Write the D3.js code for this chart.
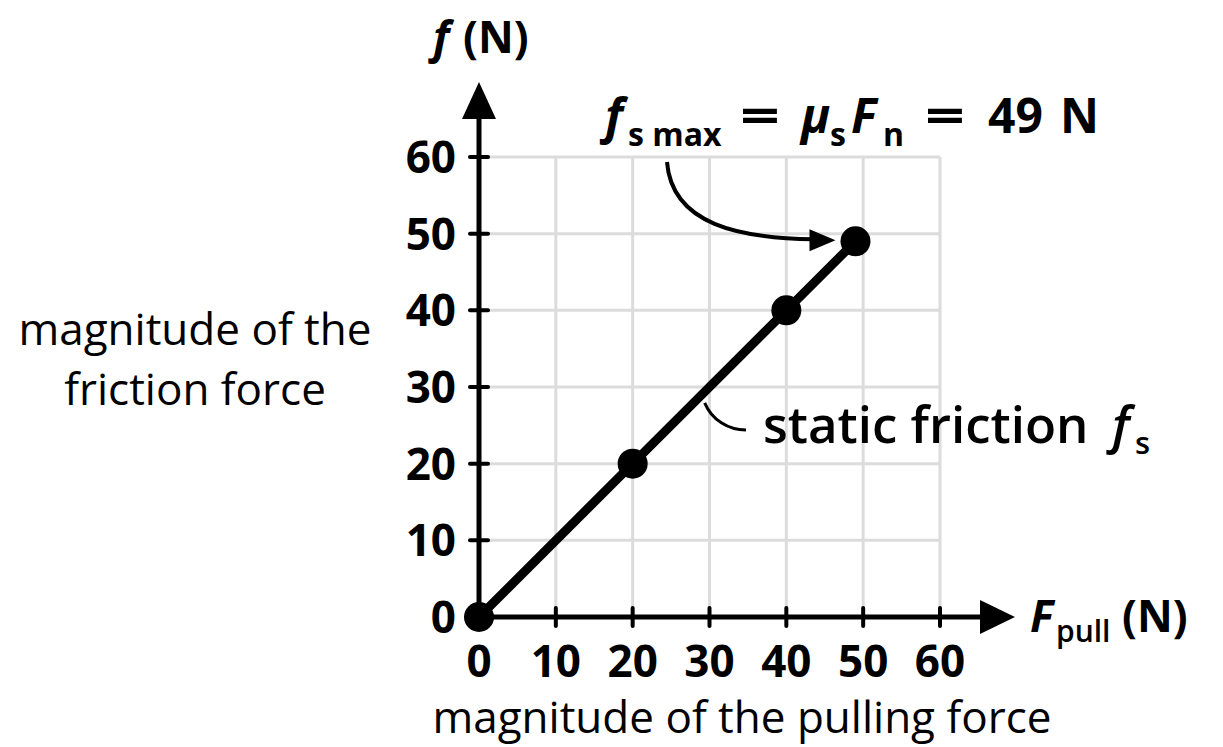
<!DOCTYPE html>
<html>
<head>
<meta charset="utf-8">
<script src="https://cdn.jsdelivr.net/npm/d3@7"></script>
<style>
  body { margin: 0; background: #fff; }
  svg { display: block; }
  text { font-family: "Open Sans", "Noto Sans", sans-serif; fill: #000; }
</style>
</head>
<body>
<svg id="chart" width="1223" height="747"></svg>
<script>
// DATA
const xTicks = [0, 10, 20, 30, 40, 50, 60];
const yTicks = [0, 10, 20, 30, 40, 50, 60];
const pullForce = [0, 20, 40, 49];
const frictionForce = [0, 20, 40, 49];
const xTitle = "magnitude of the pulling force";
const yTitleLines = ["magnitude of the", "friction force"];

const svg = d3.select("#chart");

const x = d3.scaleLinear().domain([0, 60]).range([479, 940]);
const y = d3.scaleLinear().domain([0, 60]).range([617, 157]);

// grid
svg.append("g")
  .selectAll("line")
  .data(xTicks.slice(1))
  .join("line")
  .attr("x1", d => x(d)).attr("x2", d => x(d))
  .attr("y1", y(0)).attr("y2", y(60))
  .attr("stroke", "#dcdcdc").attr("stroke-width", 3);

svg.append("g")
  .selectAll("line")
  .data(yTicks.slice(1))
  .join("line")
  .attr("x1", x(0)).attr("x2", x(60))
  .attr("y1", d => y(d)).attr("y2", d => y(d))
  .attr("stroke", "#dcdcdc").attr("stroke-width", 3);

// axis lines
svg.append("line")
  .attr("x1", x(0)).attr("x2", 990)
  .attr("y1", y(0)).attr("y2", y(0))
  .attr("stroke", "#000").attr("stroke-width", 5);
svg.append("line")
  .attr("x1", x(0)).attr("x2", x(0))
  .attr("y1", y(0)).attr("y2", 110)
  .attr("stroke", "#000").attr("stroke-width", 5);

// arrowheads
svg.append("path")
  .attr("d", `M${x(0)},82 L${x(0) - 17},119 L${x(0) + 17},119 Z`)
  .attr("fill", "#000");
svg.append("path")
  .attr("d", `M1015,${y(0)} L980,${y(0) - 17} L980,${y(0) + 17} Z`)
  .attr("fill", "#000");

// tick marks
svg.append("g")
  .selectAll("line")
  .data(xTicks.slice(1))
  .join("line")
  .attr("x1", d => x(d)).attr("x2", d => x(d))
  .attr("y1", y(0) - 9).attr("y2", y(0) + 9)
  .attr("stroke", "#000").attr("stroke-width", 4)
  .attr("stroke-linecap", "round");
svg.append("g")
  .selectAll("line")
  .data(yTicks.slice(1))
  .join("line")
  .attr("x1", x(0) - 9).attr("x2", x(0) + 9)
  .attr("y1", d => y(d)).attr("y2", d => y(d))
  .attr("stroke", "#000").attr("stroke-width", 4)
  .attr("stroke-linecap", "round");

// tick labels
svg.append("g")
  .selectAll("text")
  .data(xTicks)
  .join("text")
  .attr("x", d => x(d)).attr("y", 677)
  .attr("text-anchor", "middle")
  .attr("font-size", 44).attr("font-weight", 700)
  .text(d => d);
svg.append("g")
  .selectAll("text")
  .data(yTicks)
  .join("text")
  .attr("x", 456).attr("y", d => y(d) + 16)
  .attr("text-anchor", "end")
  .attr("font-size", 44).attr("font-weight", 700)
  .text(d => d);

// axis titles
svg.append("text")
  .attr("x", 433).attr("y", 53)
  .attr("font-size", 44).attr("font-weight", 700).attr("font-style", "italic")
  .text("f");
svg.append("text")
  .attr("x", 463).attr("y", 53)
  .attr("font-size", 44).attr("font-weight", 700)
  .text("(N)");

svg.append("text")
  .attr("x", 1030).attr("y", 632)
  .attr("font-size", 44).attr("font-weight", 700).attr("font-style", "italic")
  .text("F");
svg.append("text")
  .attr("x", 1056).attr("y", 642)
  .attr("font-size", 30).attr("font-weight", 600)
  .text("pull");
svg.append("text")
  .attr("x", 1122).attr("y", 632)
  .attr("font-size", 44).attr("font-weight", 700)
  .text("(N)");

svg.append("text")
  .attr("x", 742).attr("y", 733)
  .attr("text-anchor", "middle")
  .attr("font-size", 44)
  .text(xTitle);

svg.append("g")
  .selectAll("text")
  .data(yTitleLines)
  .join("text")
  .attr("x", 195).attr("y", (d, i) => 345 + i * 60)
  .attr("text-anchor", "middle")
  .attr("font-size", 44)
  .text(d => d);

// data line and points
const line = d3.line().x((d, i) => x(pullForce[i])).y((d, i) => y(frictionForce[i]));
svg.append("path")
  .datum(pullForce)
  .attr("d", line)
  .attr("fill", "none")
  .attr("stroke", "#000")
  .attr("stroke-width", 9);

svg.append("g")
  .selectAll("circle")
  .data(pullForce)
  .join("circle")
  .attr("cx", d => x(d))
  .attr("cy", (d, i) => y(frictionForce[i]))
  .attr("r", 15)
  .attr("fill", "#000");

// annotation: f_s max = mu_s F_n = 49 N
const annParts = [
  { t: "f", x: 605, dy: 0, size: 48, italic: true },
  { t: "s max", x: 628, dy: 13, size: 32 },
  { t: "=", x: 740, dy: 0, size: 48, len: 40 },
  { t: "μ", x: 801, dy: 0, size: 48, italic: true },
  { t: "s", x: 830, dy: 13, size: 32 },
  { t: "F", x: 851, dy: 0, size: 48, italic: true },
  { t: "n", x: 883, dy: 13, size: 32 },
  { t: "=", x: 925, dy: 0, size: 48, len: 40 },
  { t: "49", x: 988, dy: 0, size: 48 },
  { t: "N", x: 1060, dy: 0, size: 48 }
];
svg.append("g")
  .selectAll("text")
  .data(annParts)
  .join("text")
  .attr("x", d => d.x).attr("y", d => 133 + d.dy)
  .attr("font-size", d => d.size)
  .attr("font-weight", 700)
  .attr("font-style", d => d.italic ? "italic" : "normal")
  .each(function (d) {
    if (d.len) d3.select(this).attr("textLength", d.len).attr("lengthAdjust", "spacingAndGlyphs");
  })
  .text(d => d.t);

const last = pullForce.length - 1;
const px = x(pullForce[last]), py = y(frictionForce[last]);
svg.append("path")
  .attr("d", `M667,162 C672,225 740,238 ${px - 42},${py - 2}`)
  .attr("fill", "none").attr("stroke", "#000").attr("stroke-width", 4);
svg.append("path")
  .attr("d", `M${px - 20},${py - 1} L${px - 46},${py - 12} L${px - 46},${py + 10} Z`)
  .attr("fill", "#000");

// annotation: static friction
svg.append("path")
  .attr("d", `M${x(29.5) - 1},${y(29.5) + 12} C712,420 728,430 746,430`)
  .attr("fill", "none").attr("stroke", "#000").attr("stroke-width", 3);

svg.append("text")
  .attr("x", 763).attr("y", 443)
  .attr("font-size", 51).attr("font-weight", 600)
  .text("static friction");
svg.append("text")
  .attr("x", 1112).attr("y", 443)
  .attr("font-size", 51).attr("font-weight", 600).attr("font-style", "italic")
  .text("f");
svg.append("text")
  .attr("x", 1135).attr("y", 454)
  .attr("font-size", 31).attr("font-weight", 600)
  .text("s");
</script>
</body>
</html>
